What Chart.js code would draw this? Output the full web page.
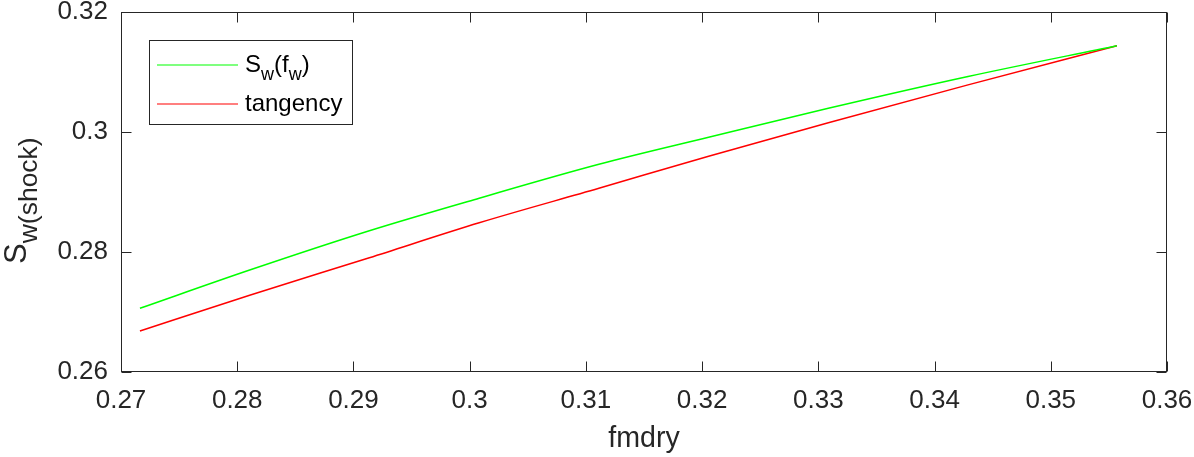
<!DOCTYPE html>
<html><head><meta charset="utf-8">
<script src="https://cdn.jsdelivr.net/npm/chart.js@4.4.0/dist/chart.umd.min.js"></script>
<style>html,body{margin:0;padding:0;background:#fff}#wrap{width:1194px;height:457px}</style>
</head><body><div id="wrap"><canvas id="c" width="1194" height="457"></canvas></div>
<script>
// ---- data ----
const fmdry     = [0.27163, 0.28107, 0.29137, 0.30082, 0.31112, 0.32056, 0.33086, 0.34288, 0.35569];
const swShock   = [0.27062, 0.27700, 0.28355, 0.28897, 0.29462, 0.29912, 0.30395, 0.30925, 0.31438];
const tangency  = [0.26683, 0.27278, 0.27905, 0.28487, 0.29062, 0.29597, 0.30155, 0.30785, 0.31438];
const xTicks    = [0.27, 0.28, 0.29, 0.30, 0.31, 0.32, 0.33, 0.34, 0.35, 0.36];
const yTicks    = [0.26, 0.28, 0.30, 0.32];
const seriesLabels = ['S_w(f_w)', 'tangency'];
const seriesColors = ['#00ff00', '#ff0000'];
const xTitle = 'fmdry';
const yTitle = 'S_{w(shock)}';

const FONT = '"Liberation Sans", Arial, Helvetica, sans-serif';
const INK = '#262626';
Chart.defaults.font.family = FONT;

function fmt(v){ return parseFloat(Number(v).toFixed(2)).toString(); }
function toXY(xs, ys){ return xs.map((x,i)=>({x:x, y:ys[i]})); }

function parseRich(s){
  const segs=[]; let i=0, buf='';
  while(i<s.length){
    if(s[i]==='_'){
      if(buf){segs.push({t:buf,sub:false});buf='';}
      if(s[i+1]==='{'){ const j=s.indexOf('}',i+2); segs.push({t:s.slice(i+2,j),sub:true}); i=j+1; }
      else { segs.push({t:s[i+1],sub:true}); i+=2; }
    } else { buf+=s[i]; i++; }
  }
  if(buf) segs.push({t:buf,sub:false});
  return segs;
}
function drawRich(ctx, str, x, y, size, subSize, drop){
  const segs=parseRich(str); let cx=x;
  ctx.textAlign='left'; ctx.textBaseline='alphabetic';
  for(const s of segs){
    const fs = s.sub?subSize:size;
    ctx.font = fs+'px '+FONT;
    ctx.fillText(s.t, cx, s.sub? y+drop : y);
    cx += ctx.measureText(s.t).width;
  }
}

const decor = {
  id:'decor',
  afterDraw(chart){
    const {ctx, chartArea:a, scales:{x, y}} = chart;
    ctx.save();
    ctx.strokeStyle=INK; ctx.lineWidth=1;
    const L=Math.round(a.left)+0.5, R=Math.round(a.right)-0.5, T=Math.round(a.top)+0.5, B=Math.round(a.bottom)-0.5;
    ctx.strokeRect(L, T, R-L, B-T);
    const tl=10;
    ctx.beginPath();
    xTicks.forEach(v=>{ const px=Math.round(x.getPixelForValue(v))+0.5;
      ctx.moveTo(px,B); ctx.lineTo(px,B-tl); ctx.moveTo(px,T); ctx.lineTo(px,T+tl); });
    yTicks.forEach(v=>{ const py=Math.round(y.getPixelForValue(v))+0.5;
      ctx.moveTo(L,py); ctx.lineTo(L+tl,py); ctx.moveTo(R,py); ctx.lineTo(R-tl,py); });
    ctx.stroke();
    ctx.fillStyle=INK;
    ctx.save();
    ctx.translate(26, 264);
    ctx.rotate(-Math.PI/2);
    drawRich(ctx, yTitle, 0, 0, 31, 26.5, 11);
    ctx.restore();
    const bx=149.5, by=40.5, bw=203, bh=84;
    ctx.fillStyle='#ffffff'; ctx.fillRect(bx,by,bw,bh);
    ctx.strokeStyle=INK; ctx.lineWidth=1; ctx.strokeRect(bx,by,bw,bh);
    const rows=[65, 104];
    seriesLabels.forEach((lab,i)=>{
      ctx.strokeStyle=seriesColors[i]; ctx.lineWidth=1.2;
      ctx.beginPath(); ctx.moveTo(157,rows[i]); ctx.lineTo(238,rows[i]); ctx.stroke();
      ctx.fillStyle='#000';
      drawRich(ctx, lab, 245, rows[i]+7, 24, 18, 8);
    });
    ctx.restore();
  }
};

function zeroPad(s){ s.paddingTop=0; s.paddingBottom=0; s.paddingLeft=0; s.paddingRight=0; }

new Chart(document.getElementById('c'), {
  type:'scatter',
  data:{ datasets:[
    {label:seriesLabels[0], data:toXY(fmdry, swShock), showLine:true, borderColor:seriesColors[0], backgroundColor:seriesColors[0], borderWidth:1.5, pointRadius:0, cubicInterpolationMode:'monotone'},
    {label:seriesLabels[1], data:toXY(fmdry, tangency), showLine:true, borderColor:seriesColors[1], backgroundColor:seriesColors[1], borderWidth:1.5, pointRadius:0, cubicInterpolationMode:'monotone'}
  ]},
  options:{
    responsive:false, animation:false, devicePixelRatio:1,
    layout:{padding:{top:12, right:27, left:0, bottom:0}},
    plugins:{legend:{display:false}, tooltip:{enabled:false}},
    scales:{
      x:{type:'linear', min:0.27, max:0.36, position:'bottom',
        afterBuildTicks:s=>{ s.ticks=xTicks.map(v=>({value:v})); },
        afterFit:s=>{ s.height=85; zeroPad(s); },
        ticks:{font:{size:26}, color:INK, padding:13, maxRotation:0, autoSkip:false, callback:v=>fmt(v)},
        grid:{display:false, drawTicks:false}, border:{display:false},
        title:{display:true, text:xTitle, color:INK, font:{size:28.6}, padding:{top:0,bottom:1}}
      },
      y:{type:'linear', min:0.26, max:0.32, position:'left',
        afterBuildTicks:s=>{ s.ticks=yTicks.map(v=>({value:v})); },
        afterFit:s=>{ s.width=121; zeroPad(s); },
        ticks:{font:{size:26}, color:INK, padding:13, autoSkip:false, callback:v=>fmt(v)},
        grid:{display:false, drawTicks:false}, border:{display:false}
      }
    }
  },
  plugins:[decor]
});
</script></body></html>
